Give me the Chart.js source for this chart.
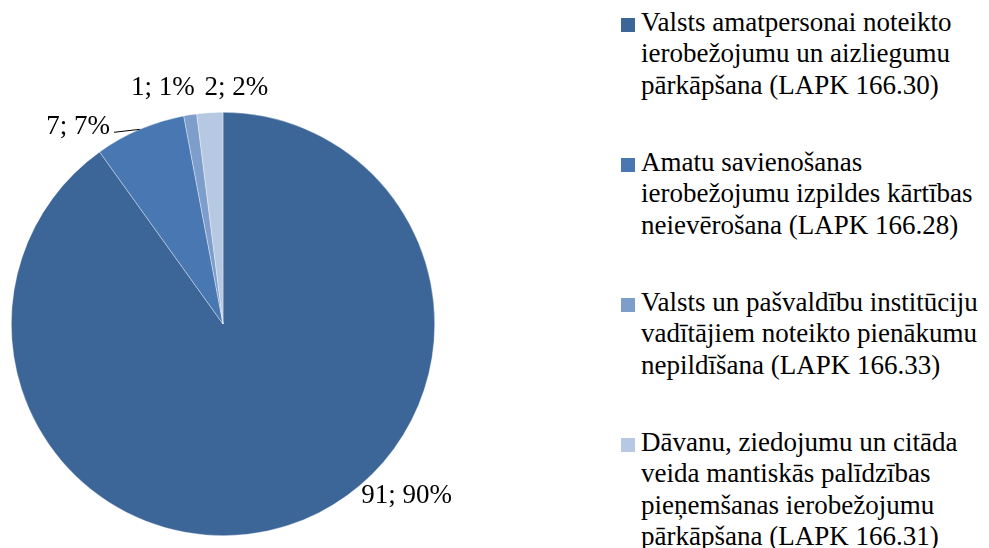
<!DOCTYPE html>
<html>
  <head>
    <meta charset="utf-8" />
    <title>LAPK pārkāpumi</title>
    <script src="https://cdn.jsdelivr.net/npm/chart.js"></script>
    <style>
      body {
        margin: 0;
        background: #fff;
        width: 989px;
        height: 548px;
        overflow: hidden;
        position: relative;
        font-family: "Liberation Serif", Tinos, "DejaVu Serif", serif;
      }
      #chart-box {
        position: absolute;
        left: 0;
        top: 0;
        width: 480px;
        height: 548px;
      }
      .legend-item {
        position: absolute;
        left: 641px;
        font-size: 27px;
        line-height: 31.3px;
        color: #000;
        white-space: nowrap;
      }
      .legend-box {
        position: absolute;
        left: -20px;
        top: 10.8px;
        width: 14px;
        height: 14px;
      }
    </style>
  </head>

  <body>
    <div id="chart-box"><canvas id="pieChart"></canvas></div>
    <div id="legend"></div>

    <script>
      // data
      var categories = [
        ["Valsts amatpersonai noteikto", "ierobežojumu un aizliegumu", "pārkāpšana (LAPK 166.30)"],
        ["Amatu savienošanas", "ierobežojumu izpildes kārtības", "neievērošana (LAPK 166.28)"],
        ["Valsts un pašvaldību institūciju", "vadītājiem noteikto pienākumu", "nepildīšana (LAPK 166.33)"],
        ["Dāvanu, ziedojumu un citāda", "veida mantiskās palīdzības", "pieņemšanas ierobežojumu", "pārkāpšana (LAPK 166.31)"],
      ];
      var counts = [91, 7, 1, 2];
      var percents = [90, 7, 1, 2];

      var colors = ["#3C6598", "#4877B2", "#7D9DCB", "#B7C8E2"];

      // label placement relative to each slice (degrees from mid-angle, radius factor)
      var labelShift = [-29, -13.2, -5.4, 6.8];
      var labelRadius = [1.19, 1.154, 1.149, 1.115];
      var labelLeader = [false, true, false, false];
      var labelFont = "27px 'Liberation Serif', Tinos, 'DejaVu Serif', serif";

      var sliceLabels = {
        id: "sliceLabels",
        afterDatasetsDraw: function (chart) {
          var ctx = chart.ctx;
          var arcs = chart.getDatasetMeta(0).data;
          ctx.save();
          ctx.font = labelFont;
          ctx.fillStyle = "#000";
          ctx.textAlign = "center";
          ctx.textBaseline = "middle";
          arcs.forEach(function (arc, i) {
            var p = arc.getProps(["x", "y", "startAngle", "endAngle", "outerRadius"], true);
            var mid = (p.startAngle + p.endAngle) / 2;
            var a = mid + (labelShift[i] * Math.PI) / 180;
            var lx = p.x + Math.cos(a) * p.outerRadius * labelRadius[i];
            var ly = p.y + Math.sin(a) * p.outerRadius * labelRadius[i];
            var txt = counts[i] + "; " + percents[i] + "%";
            ctx.fillText(txt, lx, ly);
            if (labelLeader[i]) {
              var w = ctx.measureText(txt).width;
              ctx.beginPath();
              ctx.strokeStyle = "#000";
              ctx.lineWidth = 1;
              ctx.moveTo(lx + w / 2 + 4, ly + 5);
              ctx.lineTo(p.x + Math.cos(mid) * p.outerRadius, p.y + Math.sin(mid) * p.outerRadius);
              ctx.stroke();
            }
          });
          ctx.restore();
        },
      };

      function drawChart() {
        var ctx = document.getElementById("pieChart").getContext("2d");
        new Chart(ctx, {
          type: "pie",
          data: {
            labels: categories,
            datasets: [
              {
                data: counts,
                backgroundColor: colors,
                borderColor: "rgba(255,255,255,0.6)",
                borderWidth: 0.6,
              },
            ],
          },
          options: {
            responsive: true,
            maintainAspectRatio: false,
            animation: false,
            layout: { padding: { top: 112, bottom: 12, left: 0, right: 34 } },
            plugins: {
              legend: { display: false },
              tooltip: { enabled: false },
            },
          },
          plugins: [sliceLabels],
        });
      }

      // legend on the right
      var legend = document.getElementById("legend");
      categories.forEach(function (lines, i) {
        var item = document.createElement("div");
        item.className = "legend-item";
        item.style.top = 7.2 + i * 140 + "px";
        var box = document.createElement("span");
        box.className = "legend-box";
        box.style.background = colors[i];
        item.appendChild(box);
        item.innerHTML += lines.join("<br>");
        legend.appendChild(item);
      });

      if (document.fonts && document.fonts.load) {
        document.fonts.load(labelFont, "91; 90%").then(drawChart, drawChart);
      } else {
        drawChart();
      }
    </script>
  </body>
</html>
